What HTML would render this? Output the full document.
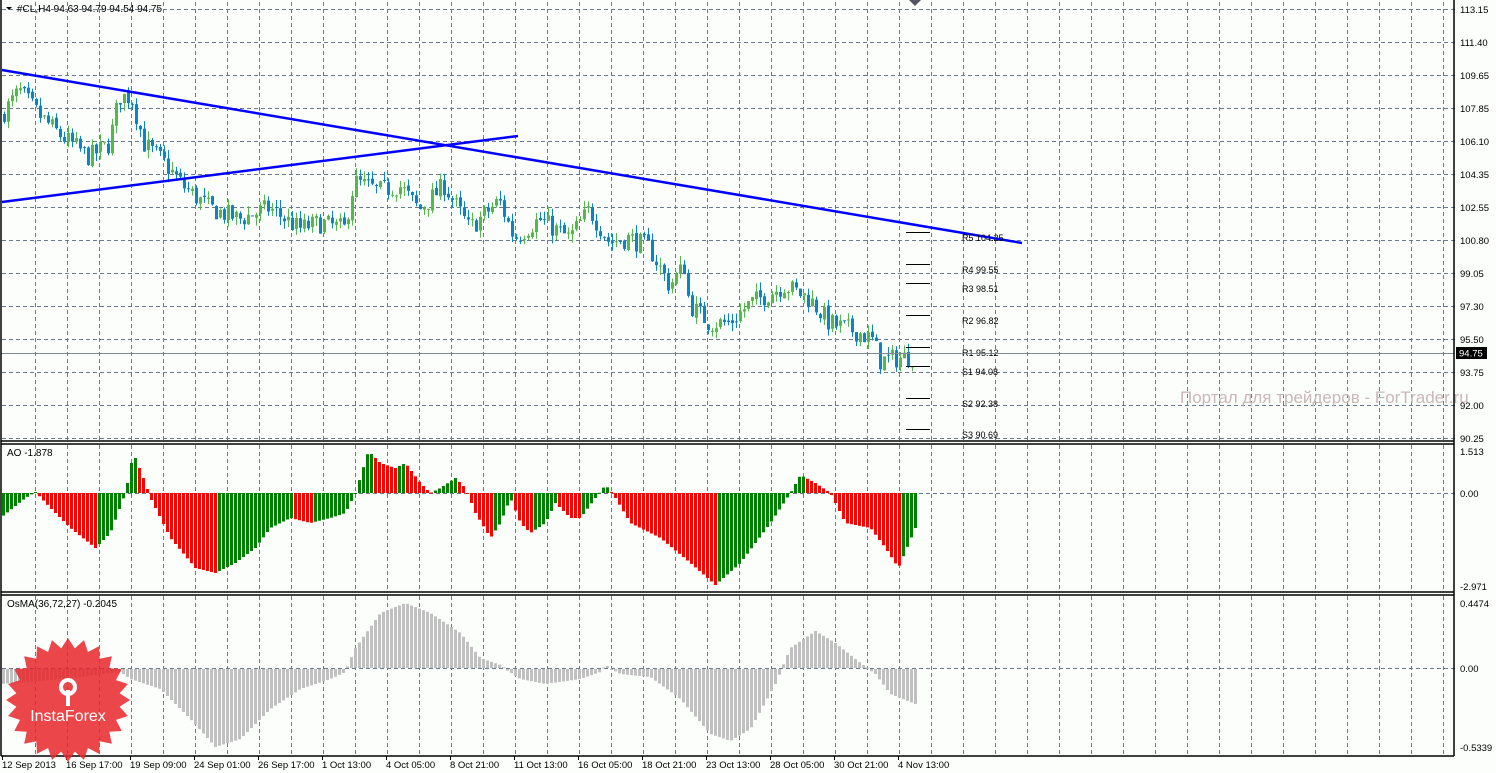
<!DOCTYPE html>
<html><head><meta charset="utf-8"><style>
html,body{margin:0;padding:0;background:#fff;}
svg{display:block;font-family:"Liberation Sans",Tahoma,sans-serif;}
</style></head><body>
<svg id="s" width="1496" height="773" xmlns="http://www.w3.org/2000/svg">
<rect width="1496" height="773" fill="#fcfefc"/>
<g id="grid" stroke="#6a7a8e" stroke-width="1" stroke-dasharray="4,3"></g>
<g id="cand"></g>
<g id="ao"></g>
<g id="osma"></g>
<text x="1180" y="403" font-size="17" fill="#c9b8b8">Портал для трейдеров - ForTrader.ru</text>
<line x1="2" y1="70" x2="1022" y2="243" stroke="#0000ff" stroke-width="2.5"/>
<line x1="2" y1="202" x2="518" y2="136" stroke="#0000ff" stroke-width="2.5"/>
<g stroke="#000" stroke-width="1">
<line x1="906" y1="232.5" x2="930" y2="232.5"/><line x1="906" y1="264.5" x2="930" y2="264.5"/>
<line x1="906" y1="283.5" x2="930" y2="283.5"/><line x1="906" y1="315.5" x2="930" y2="315.5"/>
<line x1="906" y1="347.5" x2="930" y2="347.5"/><line x1="906" y1="366.5" x2="930" y2="366.5"/>
<line x1="906" y1="398.5" x2="930" y2="398.5"/><line x1="906" y1="429.5" x2="930" y2="429.5"/>
</g>
<g font-size="9" fill="#000">
<text x="962" y="241">R5 104.25</text><text x="962" y="273">R4 99.55</text>
<text x="962" y="292">R3 98.51</text><text x="962" y="324">R2 96.82</text>
<text x="962" y="356">R1 95.12</text><text x="962" y="375">S1 94.08</text>
<text x="962" y="407">S2 92.38</text><text x="962" y="438">S3 90.69</text>
</g>
<line x1="1" y1="353.5" x2="1454" y2="353.5" stroke="#7a8a90" stroke-width="1"/>
<rect x="1456" y="347" width="31" height="12" fill="#000"/>
<text x="1459" y="356.5" font-size="9.5" fill="#fff">94.75</text>
<g stroke="#000" stroke-width="1.5" fill="none">
<line x1="1" y1="0" x2="1" y2="756"/>
<line x1="1454" y1="0" x2="1454" y2="756"/>
<line x1="1" y1="441" x2="1454" y2="441"/>
<line x1="1" y1="444" x2="1454" y2="444"/>
<line x1="1" y1="592" x2="1454" y2="592"/>
<line x1="1" y1="595" x2="1454" y2="595"/>
<line x1="1" y1="756" x2="1454" y2="756"/>
</g>
<polygon points="909,0 921,0 915,6" fill="#556"/>
<polygon points="6,7 12,7 9,10" fill="#000"/>
<g font-size="10" fill="#000">
<text x="17" y="12">#CL,H4  94.63 94.79 94.54 94.75</text>
<text x="7" y="456">AO -1.878</text>
<text x="7" y="607">OsMA(36,72,27) -0.2045</text>
</g>
<g id="yaxis" font-size="9.5" fill="#000"></g>
<g id="xaxis" font-size="9.5" fill="#000"></g>
<g transform="translate(68,700)">
<polygon id="star" fill="#e8262a" opacity="0.85"/>
<circle cx="0" cy="-13" r="7" fill="none" stroke="#fff" stroke-width="4"/>
<rect x="-2" y="-10" width="4" height="16" fill="#fff"/>
<text x="0" y="21" font-size="16" fill="#fff" text-anchor="middle">InstaForex</text>
</g>
</svg>
<script>
var NS="http://www.w3.org/2000/svg";
function el(p,t,a){var e=document.createElementNS(NS,t);for(var k in a)e.setAttribute(k,a[k]);p.appendChild(e);return e;}
var g=document.getElementById('grid');
for(var k=0;k<=44;k++){var x=35+32*k+0.5;el(g,'line',{x1:x,y1:2,x2:x,y2:440});el(g,'line',{x1:x,y1:445,x2:x,y2:591});el(g,'line',{x1:x,y1:596,x2:x,y2:755});}
var ylab=["113.15","111.40","109.65","107.85","106.10","104.35","102.55","100.80","99.05","97.30","95.50","93.75","92.00","90.25"];
var ya=document.getElementById('yaxis');
for(var i=0;i<14;i++){var y=9+33*i+0.5;el(g,'line',{x1:2,y1:y,x2:1458,y2:y});var t=el(ya,'text',{x:1460,y:y+3.5});t.textContent=ylab[i];}
el(g,'line',{x1:2,y1:493.5,x2:1458,y2:493.5});el(g,'line',{x1:2,y1:668.5,x2:1458,y2:668.5});
[["1.513",455],["0.00",497],["-2.971",590],["0.4474",607],["0.00",672],["-0.5339",751]].forEach(function(a){var t=el(ya,'text',{x:1460,y:a[1]});t.textContent=a[0];});
var xl=["12 Sep 2013","16 Sep 17:00","19 Sep 09:00","24 Sep 01:00","26 Sep 17:00","1 Oct 13:00","4 Oct 05:00","8 Oct 21:00","11 Oct 13:00","16 Oct 05:00","18 Oct 21:00","23 Oct 13:00","28 Oct 05:00","30 Oct 21:00","4 Nov 13:00"];
var xa=document.getElementById('xaxis');
for(var i=0;i<15;i++){var x=2+64*i;var t=el(xa,'text',{x:x,y:768});t.textContent=xl[i];el(xa,'line',{x1:x+0.5,y1:756,x2:x+0.5,y2:760,stroke:'#000'});}
function interp(pts,x){for(var i=0;i<pts.length-1;i++){if(x<=pts[i+1][0]){var a=pts[i],b=pts[i+1];return a[1]+(b[1]-a[1])*(x-a[0])/(b[0]-a[0]);}}return pts[pts.length-1][1];}
var seed=7;function rnd(){seed=(seed*16807)%2147483647;return seed/2147483647;}
var P=[[2,107.5],[20,108.8],[40,107.5],[60,106.5],[90,105.3],[110,106],[120,108.5],[132,108.5],[145,106],[165,105],[185,103.7],[210,102.6],[240,102],[270,102.6],[300,101.5],[320,101.8],[345,101.5],[355,104],[380,103.5],[400,103.8],[420,102.5],[445,103.8],[470,101.5],[490,102.5],[500,103],[515,101],[540,102],[570,101],[590,102.5],[610,100.8],[630,101],[650,100.5],[670,98.5],[685,99.5],[690,97.5],[710,96.5],[730,96.5],[750,97.5],[785,98.5],[810,97.8],[830,96.5],[860,96],[875,95.5],[880,94.5],[915,94.75]];
function Y(p){return 9+(113.15-p)*18.86;}
var cg=document.getElementById('cand');var prev=interp(P,2);
for(var x=3;x<=914;x+=4){var c=interp(P,x+2)+(rnd()-0.5)*1.1;var o=prev+(rnd()-0.5)*0.2;var hi=Math.max(o,c)+rnd()*0.45,lo=Math.min(o,c)-rnd()*0.45;
var col=c>=o?'#55b84a':'#0a84c8';
el(cg,'line',{x1:x+1.5,y1:Y(hi),x2:x+1.5,y2:Y(lo),stroke:col,'stroke-width':1});
var y1=Y(Math.max(o,c)),h=Math.max(1,Y(Math.min(o,c))-y1);el(cg,'rect',{x:x,y:y1,width:3,height:h,fill:col});prev=c;}
var A=[[0,-25],[25,-5],[35,1],[50,-15],[70,-35],[95,-55],[110,-40],[125,0],[133,40],[145,10],[150,-5],[170,-45],[195,-75],[215,-80],[235,-70],[255,-55],[270,-35],[290,-25],[310,-30],[330,-25],[345,-20],[355,0],[368,42],[380,30],[395,25],[405,30],[420,10],[430,0],[440,5],[455,15],[465,5],[475,-20],[490,-45],[500,-30],[510,-5],[520,-30],[530,-40],[545,-30],[555,-10],[570,-25],[580,-25],[595,-5],[605,8],[612,0],[630,-30],[660,-45],[690,-70],[715,-92],[740,-70],[770,-30],[790,0],[800,18],[815,10],[830,0],[845,-30],[870,-35],[885,-55],[898,-75],[915,-35]];
var ag=document.getElementById('ao');var pv=null;
for(var x=2;x<=914;x+=4){var v=interp(A,x+1);var col=(pv===null||v>pv)?'#008000':'#ff0000';pv=v;
var y=v>0?493-v:493;el(ag,'rect',{x:x,y:y,width:3,height:Math.max(1,Math.abs(v)),fill:col});}
var O=[[0,-15],[40,-12],[80,-8],[120,-3],[130,-10],[160,-20],[190,-50],[215,-78],[240,-70],[270,-40],[300,-20],[330,-10],[345,-3],[355,20],[380,55],[405,65],[430,55],[460,35],[480,10],[500,3],[520,-10],[545,-15],[580,-10],[600,-3],[605,3],[620,-5],[650,-8],[680,-30],[710,-65],[730,-72],[750,-60],[775,-15],[790,20],[815,37],[835,25],[860,5],[875,-5],[890,-25],[915,-35]];
var og=document.getElementById('osma');
for(var x=2;x<=914;x+=4){var v=interp(O,x+1);var y=v>0?668-v:669;el(og,'rect',{x:x,y:y,width:3,height:Math.max(1,Math.abs(v)),fill:'#c0c0c0'});}
var pts=[];for(var i=0;i<48;i++){var r=i%2?52:62;var a=i*Math.PI/24;pts.push((r*Math.cos(a)).toFixed(1)+','+(r*Math.sin(a)).toFixed(1));}
document.getElementById('star').setAttribute('points',pts.join(' '));
</script>
</body></html>
